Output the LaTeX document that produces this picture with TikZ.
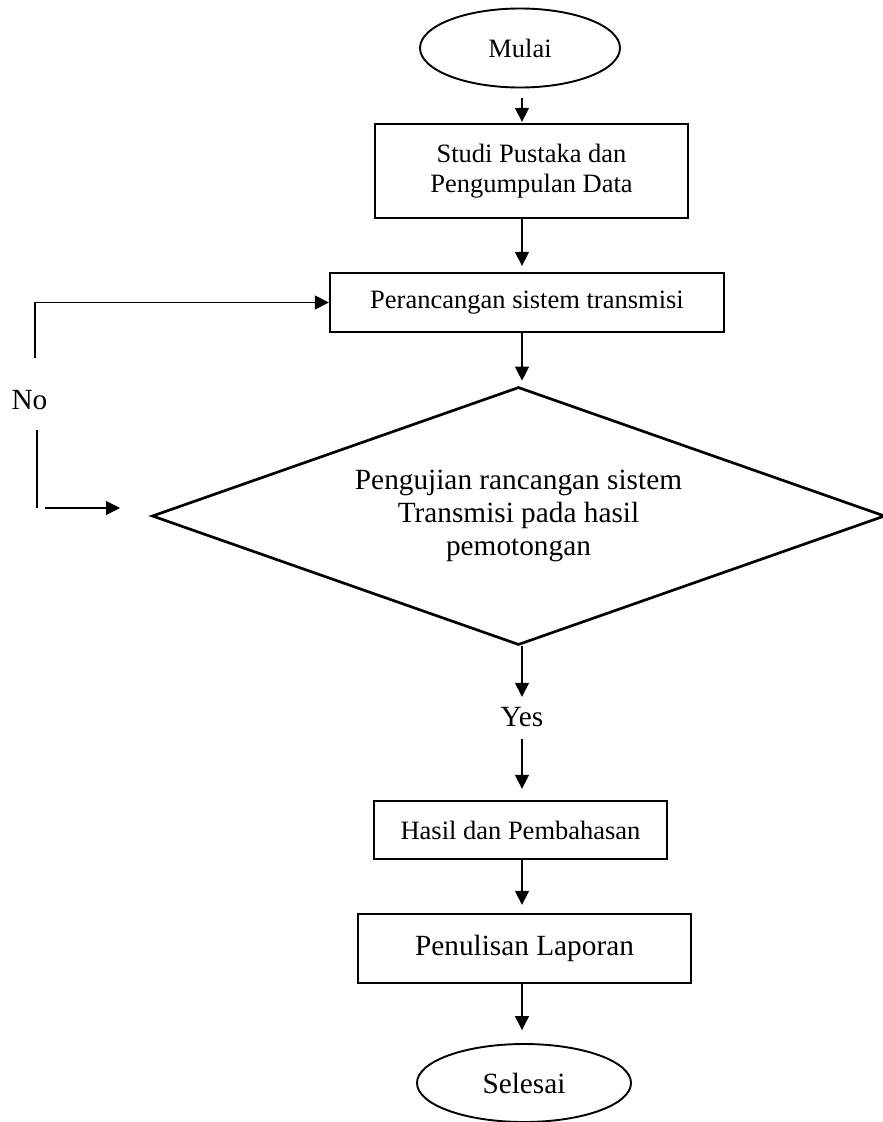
\documentclass[tikz,border=0pt]{standalone}
\usepackage{fontspec}
\setmainfont{Liberation Serif}
\usetikzlibrary{arrows.meta,shapes.geometric,calc}
\begin{document}
\begin{tikzpicture}[x=1pt,y=-1pt,
  box/.style={draw,line width=2.3pt,inner sep=0pt,align=center},
  term/.style={draw,ellipse,line width=1.9pt,inner sep=0pt},
  tip/.style={-{Triangle[length=14pt,width=14pt]}},
  arr/.style={line width=1.3pt,tip},
  lin/.style={line width=1.1pt},
  fa/.style={font=\fontsize{26.5}{30}\selectfont},
  fb/.style={font=\fontsize{29.3}{33}\selectfont}]
\useasboundingbox (0,0) rectangle (883,1122);
\fill[white] (0,0) rectangle (883,1122);

\node[term,fa,minimum width=200pt,minimum height=79pt] (mulai) at (520,48) {Mulai};
\node[box,fa,minimum width=313pt,minimum height=94pt] (studi) at (531.5,171) {Studi Pustaka dan\\Pengumpulan Data};
\node[box,fa,minimum width=394pt,minimum height=59pt] (per) at (527,302.5) {Perancangan sistem transmisi};
\node[draw,diamond,line width=2.7pt,inner sep=0pt,aspect=2.84,minimum width=733pt,minimum height=258pt,fb,align=center] (uji) at (518.5,516) {Pengujian rancangan sistem\\Transmisi pada hasil\\pemotongan};
\node[fb,inner sep=0pt,minimum height=40pt] (yes) at (522,717) {Yes};
\node[box,fa,minimum width=293pt,minimum height=58pt] (hasil) at (520.5,830) {Hasil dan Pembahasan};
\node[box,fb,minimum width=333pt,minimum height=69pt] (tulis) at (524.5,948.5) {Penulisan Laporan};
\node[term,fb,minimum width=214pt,minimum height=78pt] (selesai) at (524,1083) {Selesai};
\node[fb,inner sep=0pt] (no) at (29.5,400) {No};

\coordinate (ax) at (522,0);
\draw[arr,shorten <=10pt,shorten >=1pt] (mulai.south -| ax) -- (studi.north -| ax);
\draw[arr,shorten >=6pt] (studi.south -| ax) -- (per.north -| ax);
\draw[arr,shorten >=5pt] (per.south -| ax) -- (uji.north -| ax);
\draw[arr] (uji.south -| ax) -- (yes.north -| ax);
\draw[arr,shorten <=2pt,shorten >=11pt] (yes.south -| ax) -- (hasil.north -| ax);
\draw[arr,shorten >=8pt] (hasil.south -| ax) -- (tulis.north -| ax);
\draw[arr,shorten >=13pt] (tulis.south -| ax) -- (selesai.north -| ax);

\coordinate (f1) at (35,358);
\draw[lin,tip] (f1) |- (per.west);
\coordinate (f3) at (37,430);
\coordinate (f4) at (37,508);
\draw[lin] (f3) -- (f4);
\coordinate (f5) at (45,508);
\coordinate (f6) at (120,508);
\draw[lin,tip] (f5) -- (f6);
\end{tikzpicture}
\end{document}
